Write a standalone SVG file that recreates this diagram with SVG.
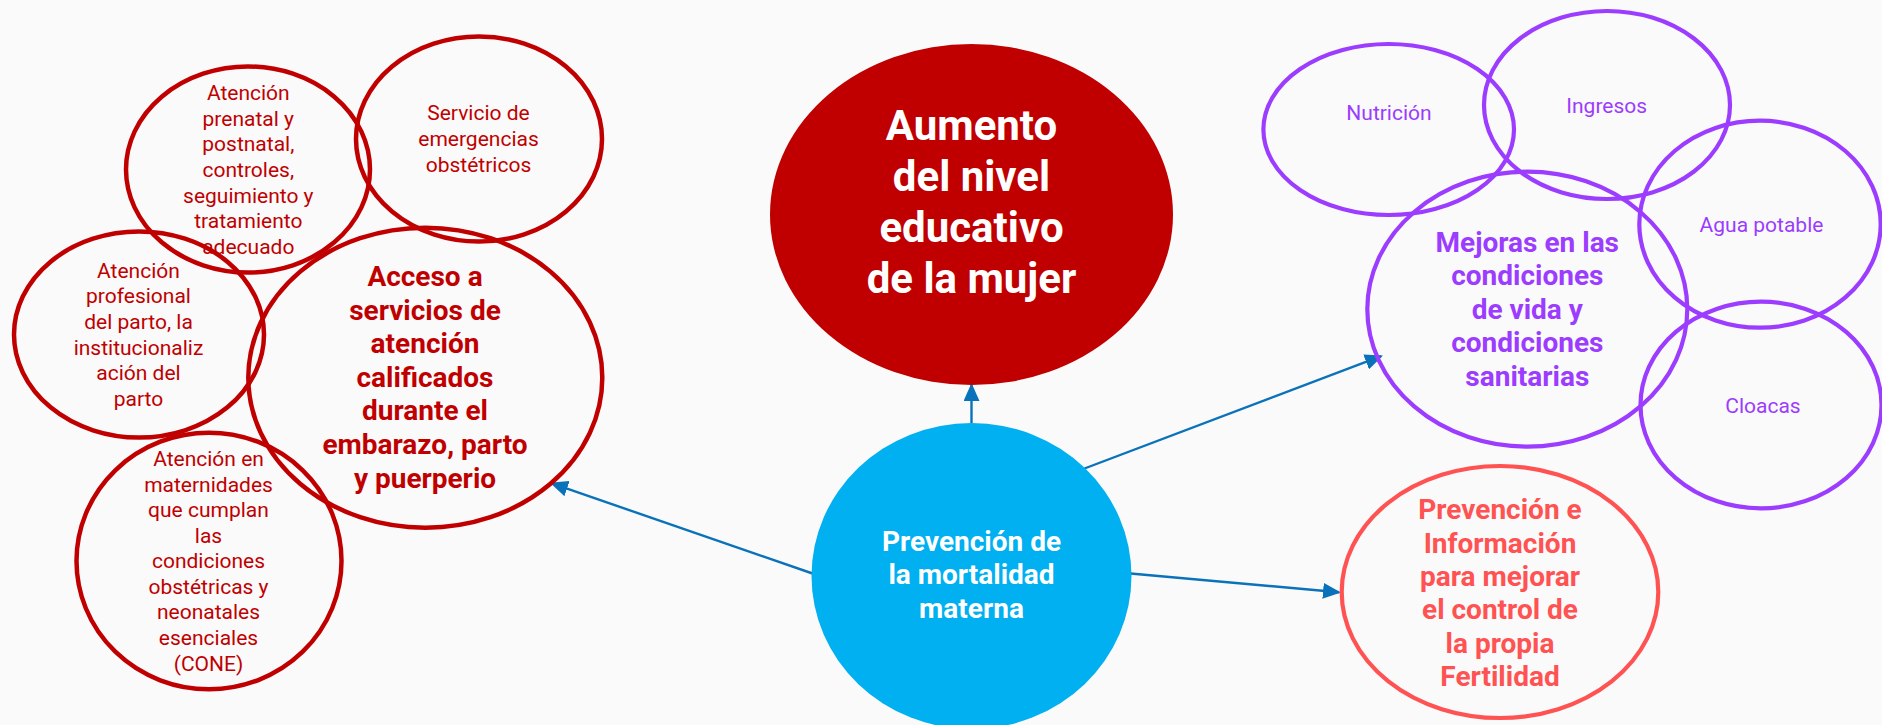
<svg xmlns="http://www.w3.org/2000/svg" width="1882" height="725" viewBox="0 0 1882 725">
<style>
text{font-family:Roboto,"Liberation Sans",sans-serif;text-anchor:middle}
.r{fill:none;stroke:#C00000;stroke-width:4.5}
.p{fill:none;stroke:#9B3CFF;stroke-width:4.2}
.c{fill:none;stroke:#FF5252;stroke-width:4.2}
.tr{fill:#C00000;font-size:21px}
.trb{fill:#C00000;font-size:28px;font-weight:bold}
.tp{fill:#9B3CFF;font-size:21px}
.tpb{fill:#9B3CFF;font-size:28px;font-weight:bold}
.tc{fill:#FF5252;font-size:28px;font-weight:bold}
.tw{fill:#FFFFFF;font-weight:bold}
.con{stroke:#0A72BA;stroke-width:2.4;fill:none;marker-end:url(#ah)}
</style>
<defs>
<marker id="ah" markerUnits="userSpaceOnUse" viewBox="0 0 18 16" markerWidth="18" markerHeight="16" refX="16" refY="8" orient="auto">
<path d="M0,0 L18,8 L0,16 z" fill="#0A72BA"/>
</marker>
</defs>
<rect width="1882" height="725" fill="#FAFAFA"/>

<g id="connectors">
<line class="con" x1="971.5" y1="423" x2="971.5" y2="385"/>
<line class="con" x1="814" y1="574" x2="551.9" y2="483.4"/>
<line class="con" x1="1084.5" y1="468.5" x2="1381.1" y2="356.2"/>
<line class="con" x1="1130.5" y1="573.5" x2="1339" y2="592.3"/>
</g>

<g id="aumento">
<ellipse cx="971.5" cy="214.5" rx="201.5" ry="170.5" fill="#C00000"/>
<text class="tw" font-size="42" x="971.5" y="139.5">Aumento</text>
<text class="tw" font-size="42" x="971.5" y="190.5">del nivel</text>
<text class="tw" font-size="42" x="971.5" y="241.5">educativo</text>
<text class="tw" font-size="42" x="971.5" y="293">de la mujer</text>
</g>

<g id="prevencion-mortalidad">
<ellipse cx="971.5" cy="576" rx="160" ry="153" fill="#00B0F0"/>
<text class="tw" font-size="28" x="971.5" y="550.5">Prevención de</text>
<text class="tw" font-size="28" x="971.5" y="584">la mortalidad</text>
<text class="tw" font-size="28" x="971.5" y="617.5">materna</text>
</g>

<g id="prenatal">
<ellipse class="r" cx="248" cy="169.5" rx="122" ry="103"/>
<text class="tr" x="248.3" y="100">Atención</text>
<text class="tr" x="248.3" y="125.8">prenatal y</text>
<text class="tr" x="248.3" y="151.4">postnatal,</text>
<text class="tr" x="248.3" y="177.1">controles,</text>
<text class="tr" x="248.3" y="202.7">seguimiento y</text>
<text class="tr" x="248.3" y="228.3">tratamiento</text>
<text class="tr" x="248.3" y="253.5">adecuado</text>
</g>

<g id="servicio-emergencias">
<ellipse class="r" cx="479" cy="139" rx="123" ry="102.5"/>
<text class="tr" x="478.5" y="120">Servicio de</text>
<text class="tr" x="478.5" y="146">emergencias</text>
<text class="tr" x="478.5" y="171.7">obstétricos</text>
</g>

<g id="atencion-profesional">
<ellipse class="r" cx="139" cy="334.5" rx="125" ry="103"/>
<text class="tr" x="138.5" y="277.7">Atención</text>
<text class="tr" x="138.5" y="303.3">profesional</text>
<text class="tr" x="138.5" y="329.2">del parto, la</text>
<text class="tr" x="138.5" y="354.8">institucionaliz</text>
<text class="tr" x="138.5" y="380.3">ación del</text>
<text class="tr" x="138.5" y="406">parto</text>
</g>

<g id="acceso">
<ellipse class="r" cx="425.3" cy="377.7" rx="177" ry="150"/>
<text class="trb" x="425" y="285.7">Acceso a</text>
<text class="trb" x="425" y="319.6">servicios de</text>
<text class="trb" x="425" y="353.3">atención</text>
<text class="trb" x="425" y="386.8">calificados</text>
<text class="trb" x="425" y="420.3">durante el</text>
<text class="trb" x="425" y="454">embarazo, parto</text>
<text class="trb" x="425" y="487.7">y puerperio</text>
</g>

<g id="cone">
<ellipse class="r" cx="209" cy="561" rx="132.5" ry="128.3"/>
<text class="tr" x="208.5" y="466">Atención en</text>
<text class="tr" x="208.5" y="491.7">maternidades</text>
<text class="tr" x="208.5" y="517.2">que cumplan</text>
<text class="tr" x="208.5" y="542.8">las</text>
<text class="tr" x="208.5" y="568.3">condiciones</text>
<text class="tr" x="208.5" y="593.8">obstétricas y</text>
<text class="tr" x="208.5" y="619.4">neonatales</text>
<text class="tr" x="208.5" y="645">esenciales</text>
<text class="tr" x="208.5" y="670.6">(CONE)</text>
</g>

<g id="nutricion">
<ellipse class="p" cx="1388.7" cy="129.5" rx="125.3" ry="85.5"/>
<text class="tp" x="1389" y="120">Nutrición</text>
</g>

<g id="ingresos">
<ellipse class="p" cx="1607" cy="105" rx="123" ry="94"/>
<text class="tp" x="1606.7" y="112.7">Ingresos</text>
</g>

<g id="agua-potable">
<ellipse class="p" cx="1760" cy="224.2" rx="120.7" ry="103.5"/>
<text class="tp" x="1761.5" y="231.7">Agua potable</text>
</g>

<g id="cloacas">
<ellipse class="p" cx="1761" cy="405" rx="120.5" ry="103.3"/>
<text class="tp" x="1763" y="412.7">Cloacas</text>
</g>

<g id="mejoras">
<ellipse class="p" cx="1527.3" cy="309.2" rx="160" ry="137.5"/>
<text class="tpb" x="1527.3" y="251.7">Mejoras en las</text>
<text class="tpb" x="1527.3" y="285">condiciones</text>
<text class="tpb" x="1527.3" y="318.5">de vida y</text>
<text class="tpb" x="1527.3" y="352.3">condiciones</text>
<text class="tpb" x="1527.3" y="386">sanitarias</text>
</g>

<g id="fertilidad">
<ellipse class="c" cx="1500" cy="592" rx="158.3" ry="126"/>
<text class="tc" x="1500" y="519.3">Prevención e</text>
<text class="tc" x="1500" y="552.5">Información</text>
<text class="tc" x="1500" y="585.8">para mejorar</text>
<text class="tc" x="1500" y="619.3">el control de</text>
<text class="tc" x="1500" y="652.7">la propia</text>
<text class="tc" x="1500" y="686">Fertilidad</text>
</g>
</svg>
